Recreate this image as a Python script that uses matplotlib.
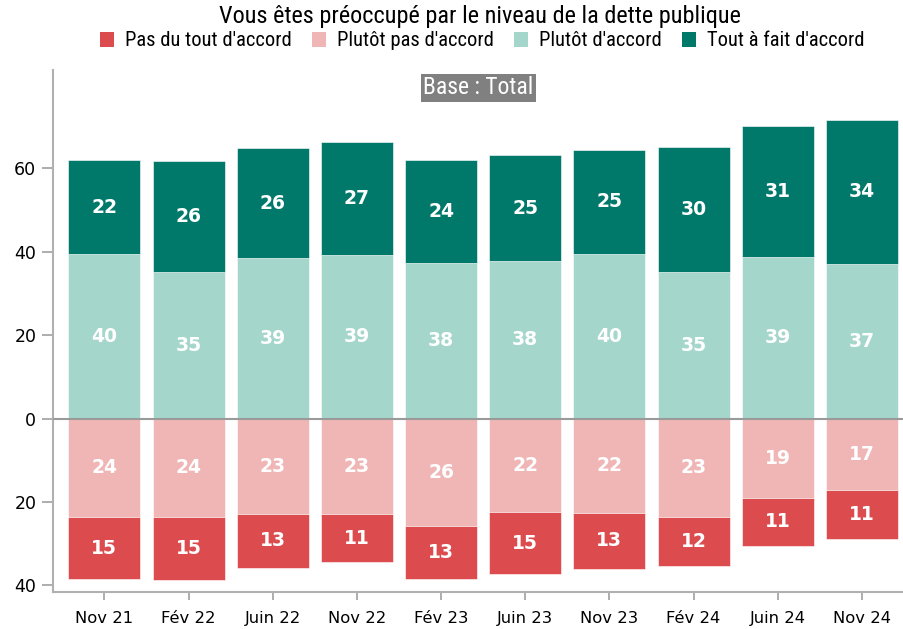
import matplotlib
matplotlib.use("Agg")
import matplotlib.pyplot as plt
from matplotlib.patches import Patch
from matplotlib.ticker import FuncFormatter
from matplotlib import font_manager as fm
import numpy as np

categories = ["Nov 21", "Fév 22", "Juin 22", "Nov 22", "Fév 23",
              "Juin 23", "Nov 23", "Fév 24", "Juin 24", "Nov 24"]

# Bar heights
plutot_accord = [39.4, 35.2, 38.4, 39.2, 37.3, 37.9, 39.5, 35.2, 38.7, 37.1]
tout_accord = [22.6, 26.6, 26.4, 27.1, 24.6, 25.2, 25.0, 30.0, 31.4, 34.5]
plutot_pas = [23.7, 23.7, 22.9, 22.9, 25.8, 22.4, 22.6, 23.5, 19.0, 17.1]
pas_du_tout = [14.8, 15.0, 12.9, 11.5, 12.8, 15.0, 13.5, 11.9, 11.6, 11.8]

# Printed labels
lbl_plutot_accord = [40, 35, 39, 39, 38, 38, 40, 35, 39, 37]
lbl_tout_accord = [22, 26, 26, 27, 24, 25, 25, 30, 31, 34]
lbl_plutot_pas = [24, 24, 23, 23, 26, 22, 22, 23, 19, 17]
lbl_pas_du_tout = [15, 15, 13, 11, 13, 15, 13, 12, 11, 11]

series_names = ["Pas du tout d'accord", "Plutôt pas d'accord",
                "Plutôt d'accord", "Tout à fait d'accord"]
colors = ["#dc4b4e", "#f0b5b5", "#a5d6cb", "#00796b"]

title = "Vous êtes préoccupé par le niveau de la dette publique"
note = "Base : Total"

# pick a condensed font if one is installed
names = {f.name for f in fm.fontManager.ttflist}
cond = None
for cand in ["Liberation Sans Narrow", "Roboto Condensed", "Open Sans Condensed",
             "DejaVu Sans Condensed", "Arial Narrow"]:
    if cand in names:
        cond = cand
        break
if cond is not None:
    narrow = dict(family=[cond, "DejaVu Sans"])
    scale = 1.0
else:
    narrow = dict(family=["Liberation Sans", "DejaVu Sans"])
    scale = 0.85

fig = plt.figure(figsize=(9.04, 6.29), dpi=100)
ax = fig.add_axes([53 / 904, 1 - 592 / 629, 1 - 53 / 904, (592 - 70) / 629])

x = np.arange(len(categories))
w = 0.855
pa = np.array(plutot_accord)
ta = np.array(tout_accord)
pp = np.array(plutot_pas)
pt = np.array(pas_du_tout)

ec = dict(edgecolor="white", linewidth=0.4)
ax.bar(x, pa, w, color=colors[2], **ec)
ax.bar(x, ta, w, bottom=pa, color=colors[3], **ec)
ax.bar(x, -pp, w, color=colors[1], **ec)
ax.bar(x, -pt, w, bottom=-pp, color=colors[0], **ec)

lab_kw = dict(ha="center", va="center", color="white", fontsize=13.5,
              fontweight="bold", family="DejaVu Sans")
for i in range(len(categories)):
    ax.text(x[i], pa[i] / 2, str(lbl_plutot_accord[i]), **lab_kw)
    ax.text(x[i], pa[i] + ta[i] / 2, str(lbl_tout_accord[i]), **lab_kw)
    ax.text(x[i], -pp[i] / 2, str(lbl_plutot_pas[i]), **lab_kw)
    ax.text(x[i], -pp[i] - pt[i] / 2, str(lbl_pas_du_tout[i]), **lab_kw)

ax.axhline(0, color="#9a9a9a", linewidth=1.5, zorder=3)

ax.set_xlim(-0.61, 9.5)
ax.set_ylim(-41.6, 83.6)
ax.set_yticks([-40, -20, 0, 20, 40, 60])
ax.yaxis.set_major_formatter(FuncFormatter(lambda v, p: f"{abs(int(round(v)))}"))
ax.set_xticks(x)
ax.set_xticklabels(categories)

for s in ["top", "right"]:
    ax.spines[s].set_visible(False)
for s in ["left", "bottom"]:
    ax.spines[s].set_color("#b0b0b0")
    ax.spines[s].set_linewidth(1.5)
ax.tick_params(axis="y", length=8, width=1.2, color="#a0a0a0",
               labelsize=12.5, pad=4)
ax.tick_params(axis="x", length=6, width=1.2, color="#a0a0a0",
               labelsize=11.8, pad=8)

ax.text(0.5, (592 - 88) / 522, note, transform=ax.transAxes, ha="center",
        va="center", color="white", fontsize=17 * scale,
        bbox=dict(boxstyle="square,pad=0.12", facecolor="#808080",
                  edgecolor="none"), **narrow)

fig.text(480 / 904, 1 - 17 / 629, title, ha="center", va="center",
         fontsize=17.5 * scale, **narrow)

handles = [Patch(facecolor=c, edgecolor="none") for c in colors]
prop = dict(size=14.8 * scale)
prop.update(narrow)
fig.legend(handles, series_names, loc="center", bbox_to_anchor=(482 / 904, 1 - 41 / 629),
           ncol=4, frameon=False, handlelength=0.7, handleheight=0.7,
           handletextpad=0.5, columnspacing=1.0, prop=prop)

fig.savefig("out.png", dpi=100)
